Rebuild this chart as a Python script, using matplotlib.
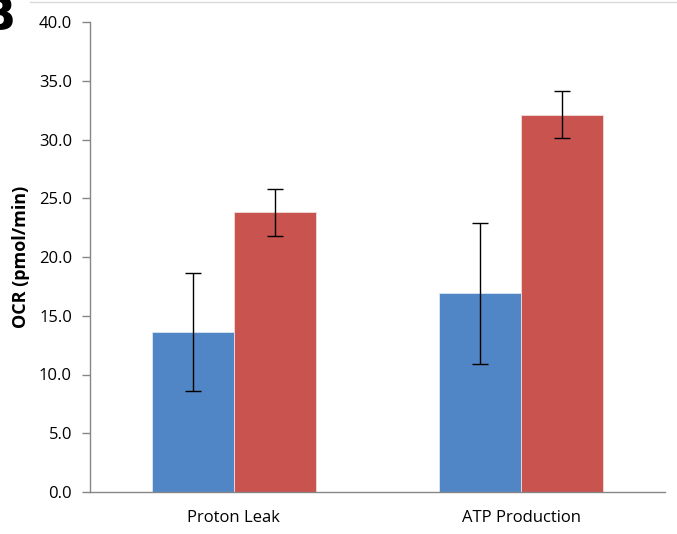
import numpy as np
import matplotlib.pyplot as plt
from matplotlib.lines import Line2D

categories = ['Proton Leak', 'ATP Production']
control = [13.6, 16.9]
control_err = [5.0, 6.0]
treated = [23.8, 32.1]
treated_err = [2.0, 2.0]
yticks = [0, 5, 10, 15, 20, 25, 30, 35, 40]

plt.rcParams['font.family'] = ['Open Sans', 'DejaVu Sans']

fig = plt.figure(figsize=(6.77, 5.34), dpi=100)
ax = fig.add_axes([90 / 677, 1 - 492 / 534, 575 / 677, 470 / 534])

x = np.arange(len(categories))
w = 0.285
ax.bar(x - w / 2, control, w, color='#5186C6', edgecolor='#DCE6F2', linewidth=0.6,
       yerr=control_err, error_kw=dict(ecolor='black', elinewidth=1, capsize=5.8, capthick=1))
ax.bar(x + w / 2, treated, w, color='#C9534F', edgecolor='#F2DCDB', linewidth=0.6,
       yerr=treated_err, error_kw=dict(ecolor='black', elinewidth=1, capsize=5.8, capthick=1))

ax.set_xlim(-0.5, 1.5)
ax.set_ylim(0, 40)
ax.set_yticks(yticks)
ax.set_yticklabels([f'{v:.1f}' for v in yticks], fontsize=12)
ax.set_xticks(x)
ax.set_xticklabels(categories, fontsize=12)
ax.tick_params(axis='x', length=0, pad=13)
ax.tick_params(axis='y', length=6, color='#868686', width=1, pad=7)

for s in ['top', 'right']:
    ax.spines[s].set_visible(False)
for s in ['left', 'bottom']:
    ax.spines[s].set_color('#868686')
    ax.spines[s].set_linewidth(1)

ax.set_ylabel('OCR (pmol/min)', fontsize=13, fontweight='bold', labelpad=6)

# thin rule at the top and the cut-off panel letter
fig.add_artist(Line2D([30 / 677, 1], [1 - 2 / 534, 1 - 2 / 534], color='#D9D9D9', lw=1))
fig.text(-0.03, 1.01, 'B', fontsize=34, fontweight='bold', va='top', ha='left',
         family='DejaVu Sans')

fig.savefig('out.png', dpi=100)
